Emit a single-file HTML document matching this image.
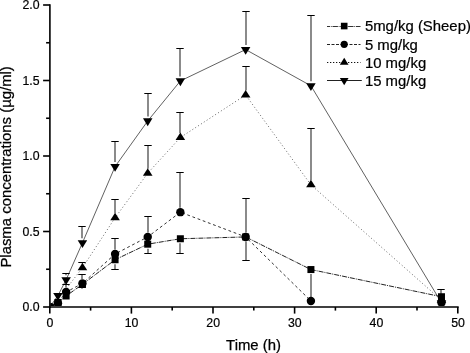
<!DOCTYPE html>
<html><head><meta charset="utf-8"><style>
html,body{margin:0;padding:0;background:#fff;}
svg{display:block;will-change:transform;}
.tk{font-family:"Liberation Sans",sans-serif;font-size:12.3px;fill:#000;stroke:#000;stroke-width:0.2px;}
.lg{font-family:"Liberation Sans",sans-serif;font-size:14.2px;fill:#000;stroke:#000;stroke-width:0.2px;}
.ax{font-family:"Liberation Sans",sans-serif;font-size:14.9px;fill:#000;stroke:#000;stroke-width:0.25px;}
</style></head><body>
<svg width="470" height="353" viewBox="0 0 470 353">
<rect width="470" height="353" fill="#fff"/>
<defs><clipPath id="pa"><rect x="50.7" y="0" width="420" height="305.9"/></clipPath></defs>
<g clip-path="url(#pa)">
<polyline points="49.80,307.00 57.96,302.47 66.12,295.98 82.44,284.35 115.08,259.74 147.72,244.18 180.36,238.75 245.64,236.94 310.92,269.55 441.48,296.73" fill="none" stroke="#222" stroke-width="1" stroke-dasharray="5 1 1 1"/>
<polyline points="49.80,307.00 57.96,303.23 66.12,292.05 82.44,283.44 115.08,254.00 147.72,236.94 180.36,212.17 245.64,236.94 310.92,300.96" fill="none" stroke="#333" stroke-width="1" stroke-dasharray="2.8 2.7"/>
<polyline points="49.80,307.00 57.96,305.49 66.12,288.88 82.44,267.74 115.08,217.76 147.72,173.21 180.36,137.50 245.64,95.00 310.92,184.84 441.48,300.20" fill="none" stroke="#555" stroke-width="0.9" stroke-dasharray="1 2.4"/>
<polyline points="49.80,307.00 57.96,295.52 66.12,279.82 82.44,242.82 115.08,166.57 147.72,120.97 180.36,80.95 245.64,49.55 310.92,85.78 441.48,302.77" fill="none" stroke="#444" stroke-width="0.85"/>
<line x1="82.00" y1="288.85" x2="82.00" y2="287.50" stroke="#222" stroke-width="1.05"/>
<line x1="78.30" y1="287.50" x2="85.70" y2="287.50" stroke="#000" stroke-width="1.1"/>
<line x1="115.00" y1="264.24" x2="115.00" y2="269.50" stroke="#222" stroke-width="1.05"/>
<line x1="111.30" y1="269.50" x2="118.70" y2="269.50" stroke="#000" stroke-width="1.1"/>
<line x1="148.00" y1="248.68" x2="148.00" y2="253.50" stroke="#222" stroke-width="1.05"/>
<line x1="144.30" y1="253.50" x2="151.70" y2="253.50" stroke="#000" stroke-width="1.1"/>
<line x1="180.00" y1="243.25" x2="180.00" y2="253.50" stroke="#222" stroke-width="1.05"/>
<line x1="176.30" y1="253.50" x2="183.70" y2="253.50" stroke="#000" stroke-width="1.1"/>
<line x1="246.00" y1="241.44" x2="246.00" y2="260.50" stroke="#222" stroke-width="1.05"/>
<line x1="242.30" y1="260.50" x2="249.70" y2="260.50" stroke="#000" stroke-width="1.1"/>
<line x1="311.00" y1="274.05" x2="311.00" y2="300.50" stroke="#222" stroke-width="1.05"/>
<line x1="307.30" y1="300.50" x2="314.70" y2="300.50" stroke="#000" stroke-width="1.1"/>
<line x1="66.00" y1="287.55" x2="66.00" y2="284.50" stroke="#222" stroke-width="1.05"/>
<line x1="62.30" y1="284.50" x2="69.70" y2="284.50" stroke="#000" stroke-width="1.1"/>
<line x1="82.00" y1="278.94" x2="82.00" y2="274.50" stroke="#222" stroke-width="1.05"/>
<line x1="78.30" y1="274.50" x2="85.70" y2="274.50" stroke="#000" stroke-width="1.1"/>
<line x1="115.00" y1="249.50" x2="115.00" y2="238.50" stroke="#222" stroke-width="1.05"/>
<line x1="111.30" y1="238.50" x2="118.70" y2="238.50" stroke="#000" stroke-width="1.1"/>
<line x1="148.00" y1="232.44" x2="148.00" y2="216.50" stroke="#222" stroke-width="1.05"/>
<line x1="144.30" y1="216.50" x2="151.70" y2="216.50" stroke="#000" stroke-width="1.1"/>
<line x1="180.00" y1="207.67" x2="180.00" y2="172.50" stroke="#222" stroke-width="1.05"/>
<line x1="176.30" y1="172.50" x2="183.70" y2="172.50" stroke="#000" stroke-width="1.1"/>
<line x1="246.00" y1="232.44" x2="246.00" y2="198.50" stroke="#222" stroke-width="1.05"/>
<line x1="242.30" y1="198.50" x2="249.70" y2="198.50" stroke="#000" stroke-width="1.1"/>
<line x1="82.00" y1="263.24" x2="82.00" y2="262.50" stroke="#222" stroke-width="1.05"/>
<line x1="78.30" y1="262.50" x2="85.70" y2="262.50" stroke="#000" stroke-width="1.1"/>
<line x1="115.00" y1="213.26" x2="115.00" y2="199.50" stroke="#222" stroke-width="1.05"/>
<line x1="111.30" y1="199.50" x2="118.70" y2="199.50" stroke="#000" stroke-width="1.1"/>
<line x1="148.00" y1="168.71" x2="148.00" y2="145.50" stroke="#222" stroke-width="1.05"/>
<line x1="144.30" y1="145.50" x2="151.70" y2="145.50" stroke="#000" stroke-width="1.1"/>
<line x1="180.00" y1="133.00" x2="180.00" y2="112.50" stroke="#222" stroke-width="1.05"/>
<line x1="176.30" y1="112.50" x2="183.70" y2="112.50" stroke="#000" stroke-width="1.1"/>
<line x1="246.00" y1="90.50" x2="246.00" y2="66.50" stroke="#222" stroke-width="1.05"/>
<line x1="242.30" y1="66.50" x2="249.70" y2="66.50" stroke="#000" stroke-width="1.1"/>
<line x1="311.00" y1="180.34" x2="311.00" y2="128.50" stroke="#222" stroke-width="1.05"/>
<line x1="307.30" y1="128.50" x2="314.70" y2="128.50" stroke="#000" stroke-width="1.1"/>
<line x1="66.00" y1="275.32" x2="66.00" y2="273.50" stroke="#222" stroke-width="1.05"/>
<line x1="62.30" y1="273.50" x2="69.70" y2="273.50" stroke="#000" stroke-width="1.1"/>
<line x1="82.00" y1="238.32" x2="82.00" y2="226.50" stroke="#222" stroke-width="1.05"/>
<line x1="78.30" y1="226.50" x2="85.70" y2="226.50" stroke="#000" stroke-width="1.1"/>
<line x1="115.00" y1="162.07" x2="115.00" y2="141.50" stroke="#222" stroke-width="1.05"/>
<line x1="111.30" y1="141.50" x2="118.70" y2="141.50" stroke="#000" stroke-width="1.1"/>
<line x1="148.00" y1="116.47" x2="148.00" y2="93.50" stroke="#222" stroke-width="1.05"/>
<line x1="144.30" y1="93.50" x2="151.70" y2="93.50" stroke="#000" stroke-width="1.1"/>
<line x1="180.00" y1="76.45" x2="180.00" y2="48.50" stroke="#222" stroke-width="1.05"/>
<line x1="176.30" y1="48.50" x2="183.70" y2="48.50" stroke="#000" stroke-width="1.1"/>
<line x1="246.00" y1="45.05" x2="246.00" y2="11.50" stroke="#222" stroke-width="1.05"/>
<line x1="242.30" y1="11.50" x2="249.70" y2="11.50" stroke="#000" stroke-width="1.1"/>
<line x1="311.00" y1="81.28" x2="311.00" y2="15.50" stroke="#222" stroke-width="1.05"/>
<line x1="307.30" y1="15.50" x2="314.70" y2="15.50" stroke="#000" stroke-width="1.1"/>
<line x1="441.00" y1="298.27" x2="441.00" y2="289.50" stroke="#222" stroke-width="1.05"/>
<line x1="437.30" y1="289.50" x2="444.70" y2="289.50" stroke="#000" stroke-width="1.1"/>
<g fill="#000">
<rect x="46.30" y="303.50" width="7" height="7"/>
<rect x="54.46" y="298.97" width="7" height="7"/>
<rect x="62.62" y="292.48" width="7" height="7"/>
<rect x="78.94" y="280.85" width="7" height="7"/>
<rect x="111.58" y="256.24" width="7" height="7"/>
<rect x="144.22" y="240.68" width="7" height="7"/>
<rect x="176.86" y="235.25" width="7" height="7"/>
<rect x="242.14" y="233.44" width="7" height="7"/>
<rect x="307.42" y="266.05" width="7" height="7"/>
<rect x="437.98" y="293.23" width="7" height="7"/>
<circle cx="49.80" cy="307.00" r="4.2"/>
<circle cx="57.96" cy="303.23" r="4.2"/>
<circle cx="66.12" cy="292.05" r="4.2"/>
<circle cx="82.44" cy="283.44" r="4.2"/>
<circle cx="115.08" cy="254.00" r="4.2"/>
<circle cx="147.72" cy="236.94" r="4.2"/>
<circle cx="180.36" cy="212.17" r="4.2"/>
<circle cx="245.64" cy="236.94" r="4.2"/>
<circle cx="310.92" cy="300.96" r="4.2"/>
<circle cx="441.48" cy="302.77" r="4.2"/>
<path d="M49.80,302.00 L54.60,309.50 L45.00,309.50Z"/>
<path d="M57.96,300.49 L62.76,307.99 L53.16,307.99Z"/>
<path d="M82.44,262.74 L87.24,270.24 L77.64,270.24Z"/>
<path d="M115.08,212.76 L119.88,220.26 L110.28,220.26Z"/>
<path d="M147.72,168.21 L152.52,175.71 L142.92,175.71Z"/>
<path d="M180.36,132.50 L185.16,140.00 L175.56,140.00Z"/>
<path d="M245.64,90.00 L250.44,97.50 L240.84,97.50Z"/>
<path d="M310.92,179.84 L315.72,187.34 L306.12,187.34Z"/>
<path d="M441.48,295.20 L446.28,302.70 L436.68,302.70Z"/>
<path d="M45.05,304.37 L54.55,304.37 L49.80,312.27Z"/>
<path d="M53.21,292.89 L62.71,292.89 L57.96,300.79Z"/>
<path d="M61.37,277.19 L70.87,277.19 L66.12,285.09Z"/>
<path d="M77.69,240.19 L87.19,240.19 L82.44,248.09Z"/>
<path d="M110.33,163.94 L119.83,163.94 L115.08,171.84Z"/>
<path d="M142.97,118.33 L152.47,118.33 L147.72,126.23Z"/>
<path d="M175.61,78.32 L185.11,78.32 L180.36,86.22Z"/>
<path d="M240.89,46.91 L250.39,46.91 L245.64,54.81Z"/>
<path d="M306.17,83.15 L315.67,83.15 L310.92,91.05Z"/>
<path d="M436.73,300.14 L446.23,300.14 L441.48,308.04Z"/>
</g>
</g>
<line x1="49.9" y1="4.2" x2="49.9" y2="307.9" stroke="#000" stroke-width="1.6"/>
<line x1="49.1" y1="307.05" x2="458.7" y2="307.05" stroke="#000" stroke-width="1.6"/>
<line x1="43.10" y1="307.00" x2="49.9" y2="307.00" stroke="#000" stroke-width="1.6"/>
<line x1="46.10" y1="269.25" x2="49.9" y2="269.25" stroke="#000" stroke-width="1.6"/>
<line x1="43.10" y1="231.50" x2="49.9" y2="231.50" stroke="#000" stroke-width="1.6"/>
<line x1="46.10" y1="193.75" x2="49.9" y2="193.75" stroke="#000" stroke-width="1.6"/>
<line x1="43.10" y1="156.00" x2="49.9" y2="156.00" stroke="#000" stroke-width="1.6"/>
<line x1="46.10" y1="118.25" x2="49.9" y2="118.25" stroke="#000" stroke-width="1.6"/>
<line x1="43.10" y1="80.50" x2="49.9" y2="80.50" stroke="#000" stroke-width="1.6"/>
<line x1="46.10" y1="42.75" x2="49.9" y2="42.75" stroke="#000" stroke-width="1.6"/>
<line x1="43.10" y1="5.00" x2="49.9" y2="5.00" stroke="#000" stroke-width="1.6"/>
<line x1="49.80" y1="307" x2="49.80" y2="313.60" stroke="#000" stroke-width="1.6"/>
<line x1="90.60" y1="307" x2="90.60" y2="310.60" stroke="#000" stroke-width="1.6"/>
<line x1="131.40" y1="307" x2="131.40" y2="313.60" stroke="#000" stroke-width="1.6"/>
<line x1="172.20" y1="307" x2="172.20" y2="310.60" stroke="#000" stroke-width="1.6"/>
<line x1="213.00" y1="307" x2="213.00" y2="313.60" stroke="#000" stroke-width="1.6"/>
<line x1="253.80" y1="307" x2="253.80" y2="310.60" stroke="#000" stroke-width="1.6"/>
<line x1="294.60" y1="307" x2="294.60" y2="313.60" stroke="#000" stroke-width="1.6"/>
<line x1="335.40" y1="307" x2="335.40" y2="310.60" stroke="#000" stroke-width="1.6"/>
<line x1="376.20" y1="307" x2="376.20" y2="313.60" stroke="#000" stroke-width="1.6"/>
<line x1="417.00" y1="307" x2="417.00" y2="310.60" stroke="#000" stroke-width="1.6"/>
<line x1="457.80" y1="307" x2="457.80" y2="313.60" stroke="#000" stroke-width="1.6"/>
<text x="39.6" y="311.30" text-anchor="end" class="tk">0.0</text>
<text x="39.6" y="235.80" text-anchor="end" class="tk">0.5</text>
<text x="39.6" y="160.30" text-anchor="end" class="tk">1.0</text>
<text x="39.6" y="84.80" text-anchor="end" class="tk">1.5</text>
<text x="39.6" y="9.30" text-anchor="end" class="tk">2.0</text>
<text x="50.00" y="326.6" text-anchor="middle" class="tk">0</text>
<text x="131.60" y="326.6" text-anchor="middle" class="tk">10</text>
<text x="213.20" y="326.6" text-anchor="middle" class="tk">20</text>
<text x="294.80" y="326.6" text-anchor="middle" class="tk">30</text>
<text x="376.40" y="326.6" text-anchor="middle" class="tk">40</text>
<text x="458.00" y="326.6" text-anchor="middle" class="tk">50</text>
<g fill="#000">
<line x1="327" y1="26.5" x2="360.5" y2="26.5" fill="none" stroke="#333" stroke-width="1" stroke-dasharray="5.4 0.8 0.8 0.8" stroke-dashoffset="2.3"/>
<rect x="340.90" y="22.75" width="6.6" height="6.6"/>
<text transform="translate(364.9,31.35) scale(1.05,1)" class="lg">5mg/kg (Sheep)</text>
<line x1="327" y1="44.5" x2="360.5" y2="44.5" fill="none" stroke="#222" stroke-width="1" stroke-dasharray="3 1.5"/>
<circle cx="344.20" cy="44.35" r="3.6"/>
<text transform="translate(364.9,49.65) scale(1.05,1)" class="lg">5 mg/kg</text>
<line x1="327" y1="62.5" x2="360.5" y2="62.5" fill="none" stroke="#111" stroke-width="1" stroke-dasharray="1.3 1.7"/>
<path d="M344.20,57.65 L348.55,64.85 L339.85,64.85Z"/>
<text transform="translate(364.9,67.75) scale(1.05,1)" class="lg">10 mg/kg</text>
<line x1="327" y1="80.5" x2="361.8" y2="80.5" fill="none" stroke="#222" stroke-width="1"/>
<path d="M339.85,78.00 L348.55,78.00 L344.20,85.20Z"/>
<text transform="translate(364.9,85.70) scale(1.05,1)" class="lg">15 mg/kg</text>
</g>
<text x="226.1" y="349.6" class="ax">Time (h)</text>
<text transform="translate(11.3,166.9) rotate(-90)" text-anchor="middle" class="ax">Plasma concentrations (µg/ml)</text>
</svg>
</body></html>
